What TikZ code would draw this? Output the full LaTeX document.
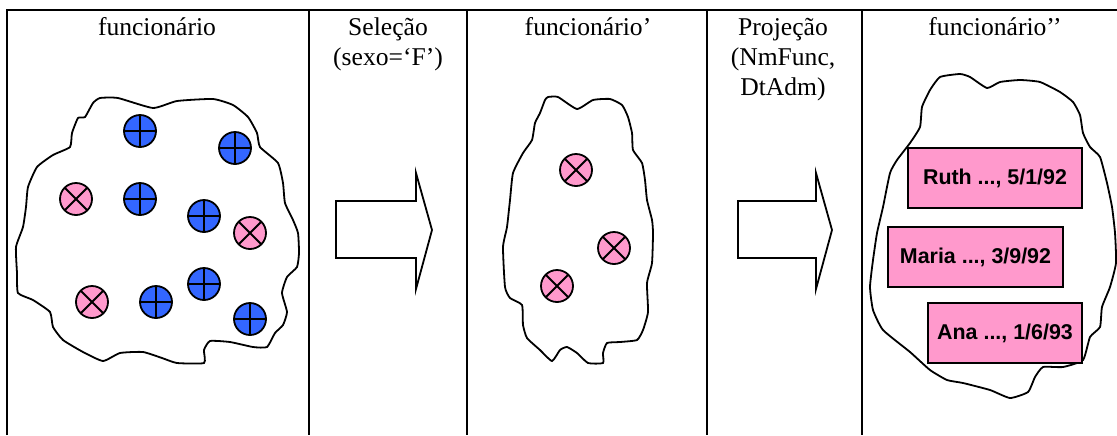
\documentclass[tikz,border=0pt]{standalone}
\usepackage{fontspec}
\setmainfont{Liberation Serif}
\newfontfamily\boxfont{Liberation Sans}
\usepackage{tikz}
\usetikzlibrary{shapes,positioning,calc}
\definecolor{dotblue}{RGB}{51,102,255}
\definecolor{dotpink}{RGB}{255,153,204}
\tikzset{
    panel/.style={line width=1pt},
    blob/.style={line width=0.9pt, fill=white},
    bluedot/.style={circle, draw, line width=0.9pt, fill=dotblue, minimum size=16pt, inner sep=0pt,
        path picture={\draw[line width=0.9pt] (path picture bounding box.north) -- (path picture bounding box.south)
            (path picture bounding box.west) -- (path picture bounding box.east);}},
    pinkdot/.style={circle, draw, line width=0.9pt, fill=dotpink, minimum size=16pt, inner sep=0pt,
        path picture={\draw[line width=0.9pt] (path picture bounding box.north west) -- (path picture bounding box.south east)
            (path picture bounding box.south west) -- (path picture bounding box.north east);}},
    rowbox/.style={draw, line width=0.9pt, fill=dotpink, minimum height=30pt, inner sep=0pt,
        font=\boxfont\bfseries\fontsize{10.7}{12}\selectfont},
    title/.style={font=\fontsize{12.8}{15}\selectfont, inner sep=0pt},
    bigarrow/.style={line width=0.9pt}
}
\begin{document}
\begin{tikzpicture}[x=0.5pt,y=-0.5pt]
    \useasboundingbox (0,0) rectangle (1117,435);

    % panels
    \draw[panel] (7,435) -- (7,10) -- (1117,10);
    \foreach \x in {309,467,707,862} {
        \draw[panel] (\x,10) -- (\x,435);
    }

    % titles
    \node[title, anchor=base] (t1) at (157,35) {funcionário};
    \node[title, anchor=north, align=center] (t2) at (388,17.5) {Seleção\\(sexo=‘F’)};
    \node[title, anchor=base] (t3) at (588,35) {funcionário’};
    \node[title, anchor=north, align=center] (t4) at (783,17.5) {Projeção\\(NmFunc,\\DtAdm)};
    \node[title, anchor=base] (t5) at (995,35) {funcionário’’};

    % arrows
    \foreach \x/\w in {336/80,738/78} {
        \draw[bigarrow] (\x,201) -- (\x+\w,201) -- (\x+\w,173) -- (\x+\w+16,230)
            -- (\x+\w,289) -- (\x+\w,258) -- (\x,258) -- cycle;
    }

    % first set
    \draw[blob] plot[smooth cycle, tension=0.3] coordinates {
        (100,98) (118,98) (153,108) (177,101) (213,99) (233,105) (248,117) (257,133)
        (260,147) (278,163) (283,183) (285,203) (293,220) (298,233) (299,253) (297,267)
        (287,277) (282,293) (287,312) (283,325) (275,333) (267,347) (253,347) (230,342)
        (210,341) (204,350) (204,363) (177,363) (162,358) (143,352) (120,353) (103,361)
        (83,352) (63,340) (53,327) (50,312) (33,300) (18,293) (17,273) (16,247)
        (23,227) (26,207) (28,187) (37,167) (53,155) (70,147) (72,133) (78,118)
        (85,117) (93,103)};
    \node[bluedot] (b1) at (140,131) {};
    \node[bluedot] (b2) at (235,148) {};
    \node[bluedot] (b3) at (140,199) {};
    \node[bluedot] (b4) at (204,216) {};
    \node[bluedot] (b5) at (204,284) {};
    \node[bluedot] (b6) at (156,302) {};
    \node[bluedot] (b7) at (250,319) {};
    \node[pinkdot] (p1) at (76,199) {};
    \node[pinkdot] (p2) at (250,233) {};
    \node[pinkdot] (p3) at (92,302) {};

    % selected set
    \draw[blob] plot[smooth cycle, tension=0.3] coordinates {
        (548,97) (558,97) (577,109) (593,100) (610,99) (622,105) (628,117) (632,133)
        (633,150) (642,163) (645,180) (647,200) (652,220) (653,233) (652,263) (647,283)
        (648,312) (643,330) (637,340) (620,342) (607,343) (603,353) (603,363) (588,363)
        (577,353) (567,347) (560,350) (552,361) (540,350) (527,338) (523,325) (522,305)
        (510,298) (505,287) (503,247) (507,227) (510,200) (513,173) (523,153) (532,140)
        (535,123) (540,113) (545,100)};
    \node[pinkdot] (q1) at (576,170) {};
    \node[pinkdot] (q2) at (614,248) {};
    \node[pinkdot] (q3) at (557,286) {};

    % projected set
    \draw[blob] plot[smooth cycle, tension=0.3] coordinates {
        (940,77) (960,74) (970,77) (987,88) (1000,82) (1020,80) (1040,82) (1060,92)
        (1073,102) (1080,115) (1083,133) (1090,147) (1100,157) (1107,183) (1112,207)
        (1115,233) (1116,263) (1110,287) (1102,307) (1100,327) (1090,337) (1083,360)
        (1063,367) (1043,367) (1035,377) (1028,392) (1010,398) (990,390) (963,383)
        (947,380) (930,370) (910,352) (883,330) (873,310) (870,287) (873,260) (877,233)
        (883,207) (890,173) (897,160) (910,143) (920,127) (922,107) (930,90)};
    \node[rowbox, minimum width=87pt] (ruth) at (995,178) {Ruth ..., 5/1/92};
    \node[rowbox, minimum width=87.5pt] (maria) at (975.5,257) {Maria ..., 3/9/92};
    \node[rowbox, minimum width=77pt] (ana) at (1005,333) {Ana ..., 1/6/93};
\end{tikzpicture}
\end{document}
